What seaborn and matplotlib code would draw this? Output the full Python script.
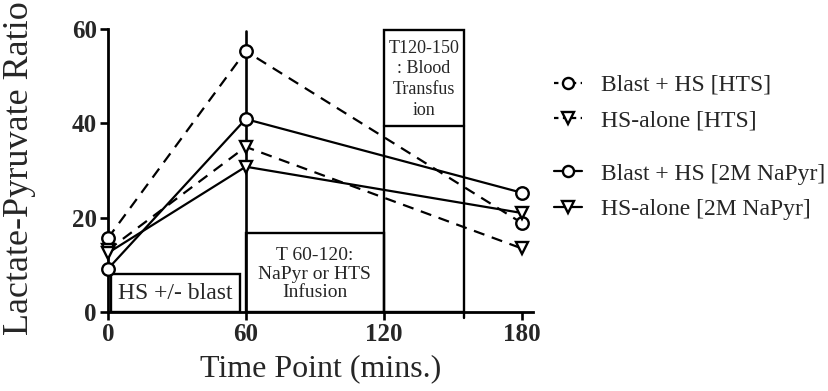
import numpy as np
import pandas as pd
import matplotlib.pyplot as plt
import seaborn as sns
from matplotlib.patches import Rectangle
from matplotlib.lines import Line2D

plt.switch_backend("Agg")

time_points = [0, 60, 180]
groups = ["Blast + HS [HTS]", "HS-alone [HTS]",
          "Blast + HS [2M NaPyr]", "HS-alone [2M NaPyr]"]
blast_hts = [15.6, 55.3, 18.9]
alone_hts = [13.1, 35.0, 13.5]
blast_napyr = [9.1, 40.9, 25.3]
alone_napyr = [12.5, 30.8, 21.0]

series = [blast_hts, alone_hts, blast_napyr, alone_napyr]
rows = []
for g, vals in zip(groups, series):
    for t, v in zip(time_points, vals):
        rows.append({"time": t, "ratio": v, "group": g})
df = pd.DataFrame(rows)

sns.set_style("ticks")
plt.rcParams["font.family"] = ["Liberation Serif", "DejaVu Serif"]

fig = plt.figure(figsize=(8.29, 3.91), dpi=100)
ax = fig.add_axes([0.13, 0.202, 0.513, 0.724])

dash = (5, 3.5)
dashes = {groups[0]: dash, groups[1]: dash, groups[2]: "", groups[3]: ""}
markers = {groups[0]: "o", groups[1]: "v", groups[2]: "o", groups[3]: "v"}
sns.lineplot(data=df, x="time", y="ratio", hue="group", style="group",
             palette=["black"] * 4, dashes=dashes, markers=markers,
             markersize=9, linewidth=1.6, ax=ax, legend=False, zorder=3)
for line in ax.lines:
    line.set_markerfacecolor("white")
    line.set_markeredgecolor("black")
    line.set_markeredgewidth(1.7)
    line.set_clip_on(False)

# annotation boxes
box_kw = dict(fill=False, edgecolor="black", linewidth=1.7, zorder=2)
ax.add_patch(Rectangle((1.5, 0), 56, 8, **box_kw))
ax.add_patch(Rectangle((60, 0), 60, 16.7, **box_kw))
ax.add_patch(Rectangle((120, 0), 35, 59.8, clip_on=False, **box_kw))
ax.plot([120, 155], [39.4, 39.4], color="black", lw=1.7, zorder=2)
ax.plot([60, 60], [0, 59.5], color="black", lw=1.9, zorder=2)
ax.plot([155, 155], [0, -1.3], color="black", lw=1.7, clip_on=False)

ax.text(29.5, 3.9, "HS +/- blast", ha="center", va="center", fontsize=17)
ax.text(90, 8.0, "T 60-120:\nNaPyr or HTS\nInfusion", ha="center", va="center",
        fontsize=14, linespacing=1.1)
ax.text(137.5, 49.3, "T120-150\n: Blood\nTransfus\nion", ha="center", va="center",
        fontsize=13, linespacing=1.3)

ax.set_xlim(0, 185)
ax.set_ylim(0, 60)
ax.set_xticks([0, 60, 120, 180])
ax.set_yticks([0, 20, 40, 60])
for lab in ax.get_xticklabels() + ax.get_yticklabels():
    lab.set_fontweight("bold")
    lab.set_fontsize(18)
ax.tick_params(axis="both", width=1.9, length=6, pad=2, color="black")
ax.set_xlabel("Time Point (mins.)", fontsize=23)
ax.set_ylabel("Lactate-Pyruvate Ratio", fontsize=26)
ax.xaxis.set_label_coords(0.5, -0.15)
ax.yaxis.set_label_coords(-0.168, 0.51)
for side in ["left", "bottom"]:
    ax.spines[side].set_linewidth(2)
    ax.spines[side].set_color("black")
sns.despine(ax=ax)

def handle(ls, m):
    return Line2D([], [], color="black", linestyle=ls, marker=m, markersize=8,
                  markerfacecolor="white", markeredgewidth=1.7, linewidth=1.6)

leg_kw = dict(frameon=False, fontsize=17, handlelength=1.2, handletextpad=0.8,
              labelspacing=0.6, borderaxespad=0, borderpad=0)
leg1 = fig.legend([handle((0, (2, 2)), "o"), handle((0, (2, 2)), "v")], groups[:2],
                  loc="upper left", bbox_to_anchor=(0.668, 0.81), **leg_kw)
leg2 = fig.legend([handle("-", "o"), handle("-", "v")], groups[2:],
                  loc="upper left", bbox_to_anchor=(0.668, 0.583), **leg_kw)

fig.savefig("out.png", dpi=100)
plt.close(fig)
